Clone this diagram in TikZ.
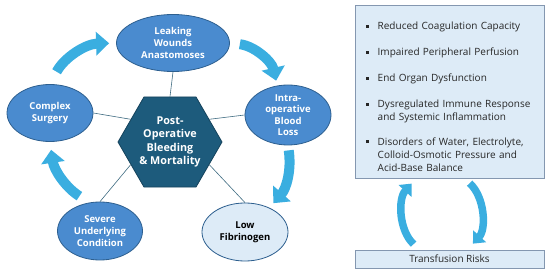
\documentclass[tikz,border=0pt]{standalone}
\usepackage{fontspec}
\setmainfont{Open Sans}
\usetikzlibrary{arrows.meta,shapes.geometric,calc,positioning}

\definecolor{causefill}{HTML}{4A8BCF}
\definecolor{causeline}{HTML}{2D5F8F}
\definecolor{lowfill}{HTML}{DDEBF7}
\definecolor{hexfill}{HTML}{1D5B7C}
\definecolor{hexline}{HTML}{15435C}
\definecolor{cyclecol}{HTML}{3AAEE0}
\definecolor{riskfill}{HTML}{DDEBF7}
\definecolor{riskline}{HTML}{8497B0}
\definecolor{linkcol}{HTML}{3D6A80}
\definecolor{risktext}{HTML}{262626}

\newcommand{\riskitem}[1]{\par\noindent
  \makebox[12pt][l]{\rule[2pt]{3pt}{3pt}}\parbox[t]{165pt}{#1}\par}
\newcommand{\riskgap}{\vspace{13pt}}

\begin{document}
\begin{tikzpicture}[
  x=1pt, y=1pt,
  causebox/.style={ellipse, draw=causeline, line width=0.8pt, fill=causefill,
                   text=white, align=center, inner sep=0pt,
                   minimum width=86pt, minimum height=57pt,
                   font=\bfseries\fontsize{9.5}{12}\selectfont},
  lowbox/.style={causebox, fill=lowfill, text=black},
  hexbox/.style={regular polygon, regular polygon sides=6, minimum size=104pt,
                 draw=hexline, line width=0.8pt, fill=hexfill, text=white,
                 align=center, inner sep=0pt,
                 font=\bfseries\fontsize{10.8}{13.5}\selectfont},
  riskbox/.style={draw=riskline, line width=0.9pt, fill=riskfill, inner sep=0pt,
                  minimum width=189pt, text=risktext},
  risklist/.style={text width=178pt, inner sep=0pt, text=risktext,
                   font=\fontsize{10}{13}\selectfont},
  linkline/.style={draw=linkcol, line width=0.6pt},
  cyclearr/.style={-{Triangle[width=23pt,length=13pt]}, line width=10pt,
                   draw=cyclecol},
  loopar/.style={-{Triangle[width=17pt,length=10pt]}, line width=7.5pt,
                 draw=cyclecol}
]
  \useasboundingbox (0,0) rectangle (550,-275);

  % cycle of causes round the centre
  \node[hexbox] (hex) at (170,-142) {Post-\\Operative\\Bleeding\\\& Mortality};
  \node[causebox, minimum width=113pt] (leak) at (173,-43)
    {Leaking\\Wounds\\Anastomoses};
  \node[causebox] (complex) at (50,-113) {Complex\\Surgery};
  \node[causebox, minimum height=60pt, font=\bfseries\fontsize{9.5}{11.5}\selectfont]
    (intra) at (288,-115) {Intra-\\operative\\Blood\\Loss};
  \node[lowbox, minimum height=58pt] (low) at (245,-232) {Low\\Fibrinogen};
  \node[causebox, minimum width=85pt, minimum height=58pt] (severe) at (100,-231)
    {Severe\\Underlying\\Condition};

  \draw[linkline] (hex.north) -- (leak.south);
  \draw[linkline] (hex.150) -- (complex.east);
  \draw[linkline] (hex.30) -- (intra.west);
  \draw[linkline] (hex.210) -- (severe.north);
  \draw[linkline] (hex.330) -- (low.north);

  \draw[cyclearr, shorten <=14pt, shorten >=7pt] (complex.north)
    to[bend left=30] (leak.west);
  \draw[cyclearr, shorten <=10pt, shorten >=5pt] (leak.east)
    to[bend left=35] (intra.110);
  \draw[cyclearr, shorten <=5pt, shorten >=6pt] (intra.south)
    to[bend left=25] (low.45);
  \draw[cyclearr, shorten <=12pt, shorten >=8pt] (severe.110)
    to[bend left=25] (complex.south);

  % consequences
  \node[riskbox, minimum height=173pt] (risk) at (449.5,-91.5) {};
  \node[risklist, anchor=north west] (risklist) at (365.5,-16.8) {%
    \riskitem{Reduced Coagulation Capacity}\riskgap
    \riskitem{Impaired Peripheral Perfusion}\riskgap
    \riskitem{End Organ Dysfunction}\riskgap
    \riskitem{Dysregulated Immune Response\\and Systemic Inflammation}\riskgap
    \riskitem{Disorders of Water, Electrolyte,\\Colloid-Osmotic Pressure and\\
      Acid-Base Balance}};
  \node[riskbox, minimum height=18pt, font=\fontsize{10}{12}\selectfont] (trans)
    at (449.5,-259) {Transfusion Risks};

  \draw[loopar, shorten <=8pt, shorten >=7pt] ([xshift=-30pt]trans.north)
    to[bend left=45] ([xshift=-33pt]risk.south);
  \draw[loopar, shorten <=7pt, shorten >=8pt] ([xshift=15pt]risk.south)
    to[bend left=45] ([xshift=18pt]trans.north);
\end{tikzpicture}
\end{document}
